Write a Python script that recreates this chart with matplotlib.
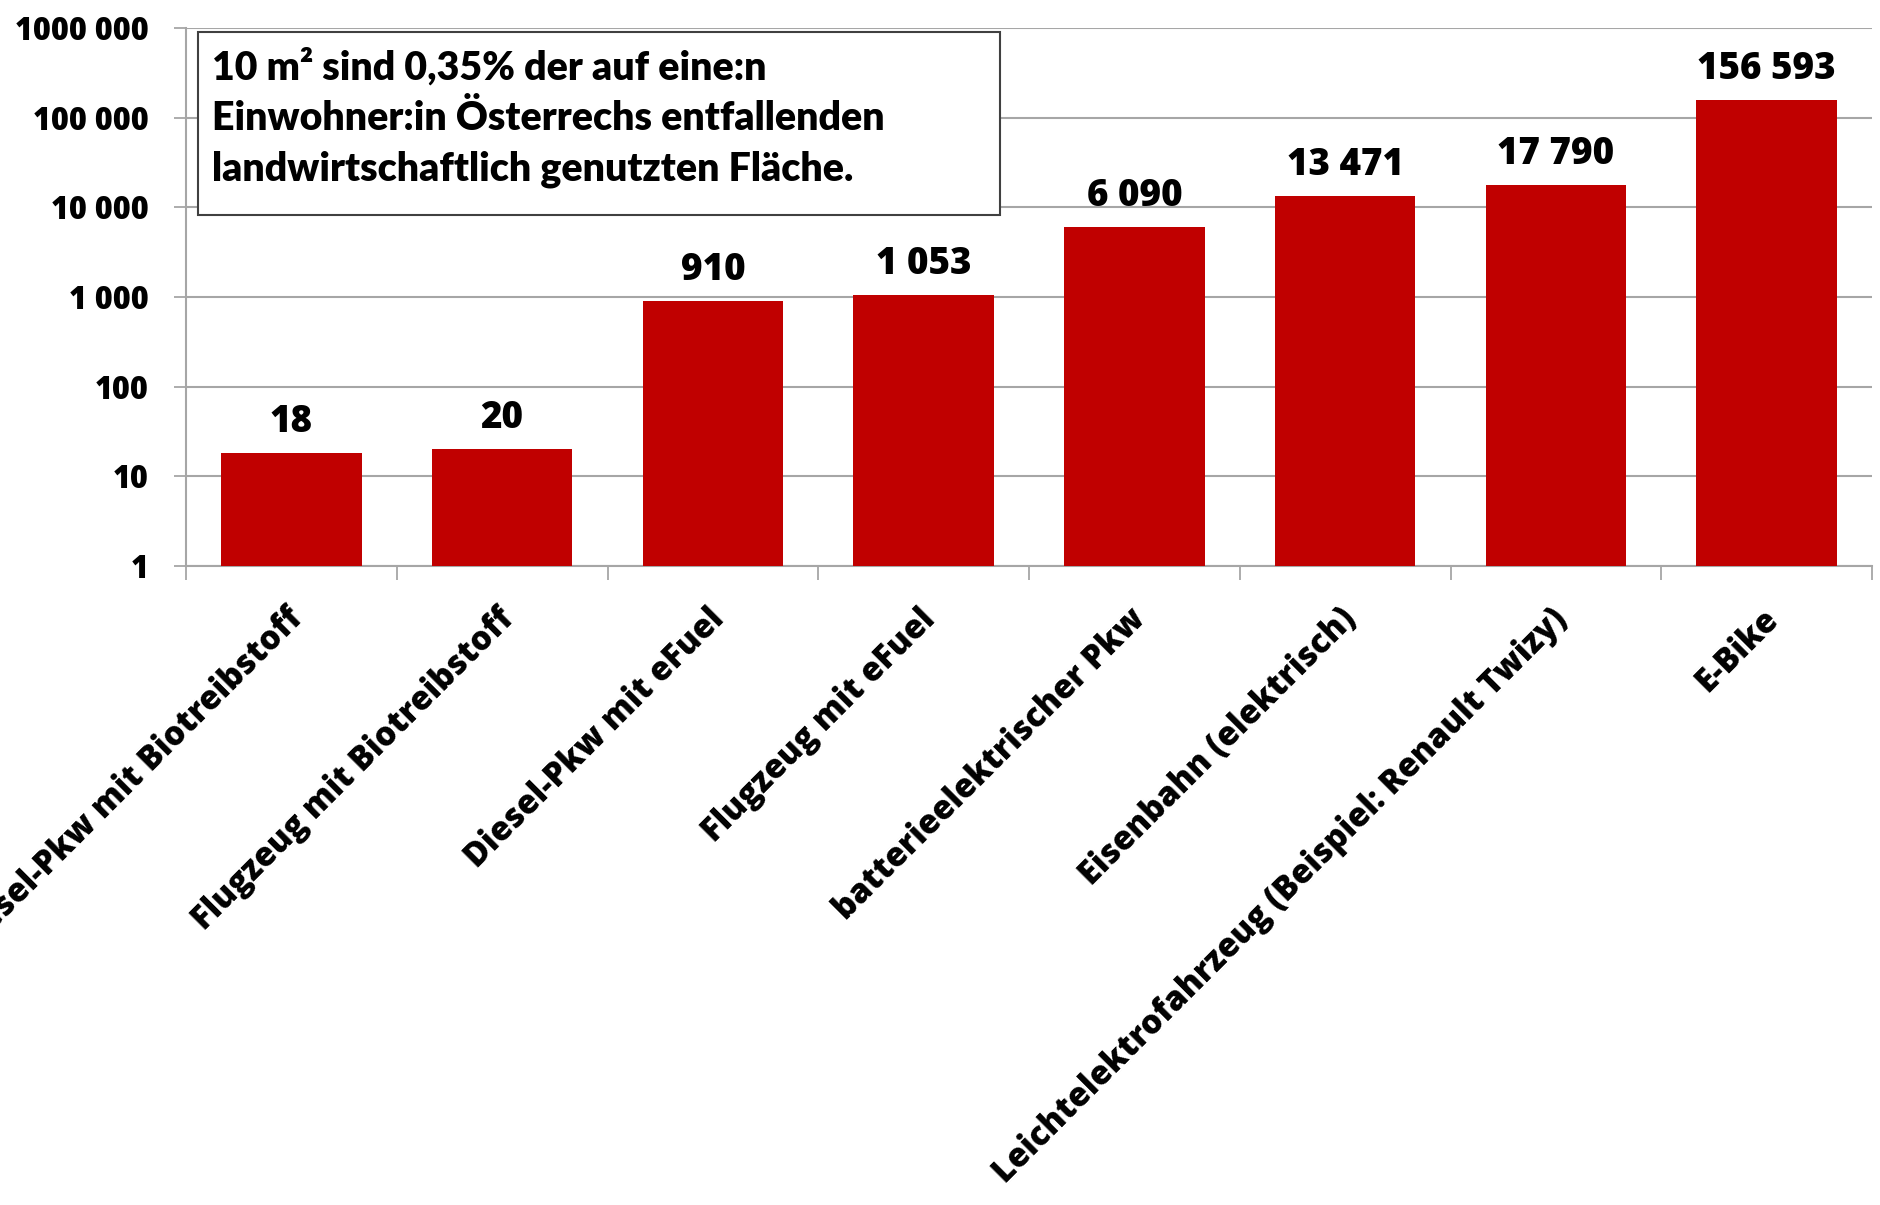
import matplotlib
matplotlib.use("Agg")
import matplotlib.pyplot as plt
import numpy as np

categories = [
    "Diesel-Pkw mit Biotreibstoff",
    "Flugzeug mit Biotreibstoff",
    "Diesel-Pkw mit eFuel",
    "Flugzeug mit eFuel",
    "batterieelektrischer Pkw",
    "Eisenbahn (elektrisch)",
    "Leichtelektrofahrzeug (Beispiel: Renault Twizy)",
    "E-Bike",
]
values = [18, 20, 910, 1053, 6090, 13471, 17790, 156593]
value_labels = ["18", "20", "910", "1 053", "6 090", "13 471", "17 790", "156 593"]
ytick_values = [1, 10, 100, 1000, 10000, 100000, 1000000]
ytick_labels = ["1", "10", "100", "1 000", "10 000", "100 000", "1000 000"]
note_lines = [
    "10 m\u00b2 sind 0,35% der auf eine:n",
    "Einwohner:in \u00d6sterrechs entfallenden",
    "landwirtschaftlich genutzten Fl\u00e4che.",
]

W, H = 1881, 1205
fig = plt.figure(figsize=(W / 100, H / 100), dpi=100)
ax = fig.add_axes([186 / W, 1 - 566 / H, (1872 - 186) / W, (566 - 28) / H])

FONT = "Open Sans"
NOTE_FONT = "Lato"
x = np.arange(len(categories))
bar_color = "#C00000"
ax.bar(x, values, width=0.667, color=bar_color, zorder=3)
ax.set_yscale("log")
ax.set_ylim(1, 1e6)
ax.set_xlim(-0.5, len(categories) - 0.5)

grid_color = "#a6a6a6"
ax.set_yticks(ytick_values)
ax.set_yticklabels(ytick_labels, fontfamily=FONT, fontweight="heavy", fontsize=22)
ax.yaxis.set_minor_locator(matplotlib.ticker.NullLocator())
ax.tick_params(axis="y", length=9, width=1.3, color=grid_color, pad=18)
ax.grid(axis="y", color=grid_color, linewidth=1.5, zorder=0)

ax.set_xticks(np.arange(len(categories) + 1) - 0.5)
ax.set_xticklabels([])
ax.tick_params(axis="x", length=10, width=1.3, color=grid_color)

for s in ["top", "right"]:
    ax.spines[s].set_visible(False)
for s in ["left", "bottom"]:
    ax.spines[s].set_color(grid_color)
    ax.spines[s].set_linewidth(1.5)

# category labels rotated 45 degrees
for xi, lab in zip(x, categories):
    ax.annotate(lab, xy=(xi + 0.03, 1), xycoords=("data", "data"),
                xytext=(0, -48), textcoords="offset pixels",
                rotation=45, rotation_mode="anchor", ha="right", va="center",
                fontfamily=FONT, fontweight="heavy", fontsize=23.6,
                annotation_clip=False)

# value labels
for xi, v, lab in zip(x, values, value_labels):
    ax.annotate(lab, xy=(xi, v), xytext=(0, 12), textcoords="offset pixels",
                ha="center", va="bottom", fontfamily=FONT,
                fontweight="heavy", fontsize=26.5, zorder=5)

# note box
fig.patches.append(matplotlib.patches.Rectangle(
    (198 / W, 1 - 215 / H), (1000 - 198) / W, (215 - 32) / H,
    transform=fig.transFigure, facecolor="white", edgecolor="#404040",
    linewidth=1.5, zorder=10))
for i, line in enumerate(note_lines):
    fig.text(212 / W, 1 - (67 + 51 * i) / H, line, ha="left", va="center",
             fontfamily=NOTE_FONT, fontweight="heavy", fontsize=28.3, zorder=11)

fig.savefig("out.png", dpi=100, facecolor="white")
